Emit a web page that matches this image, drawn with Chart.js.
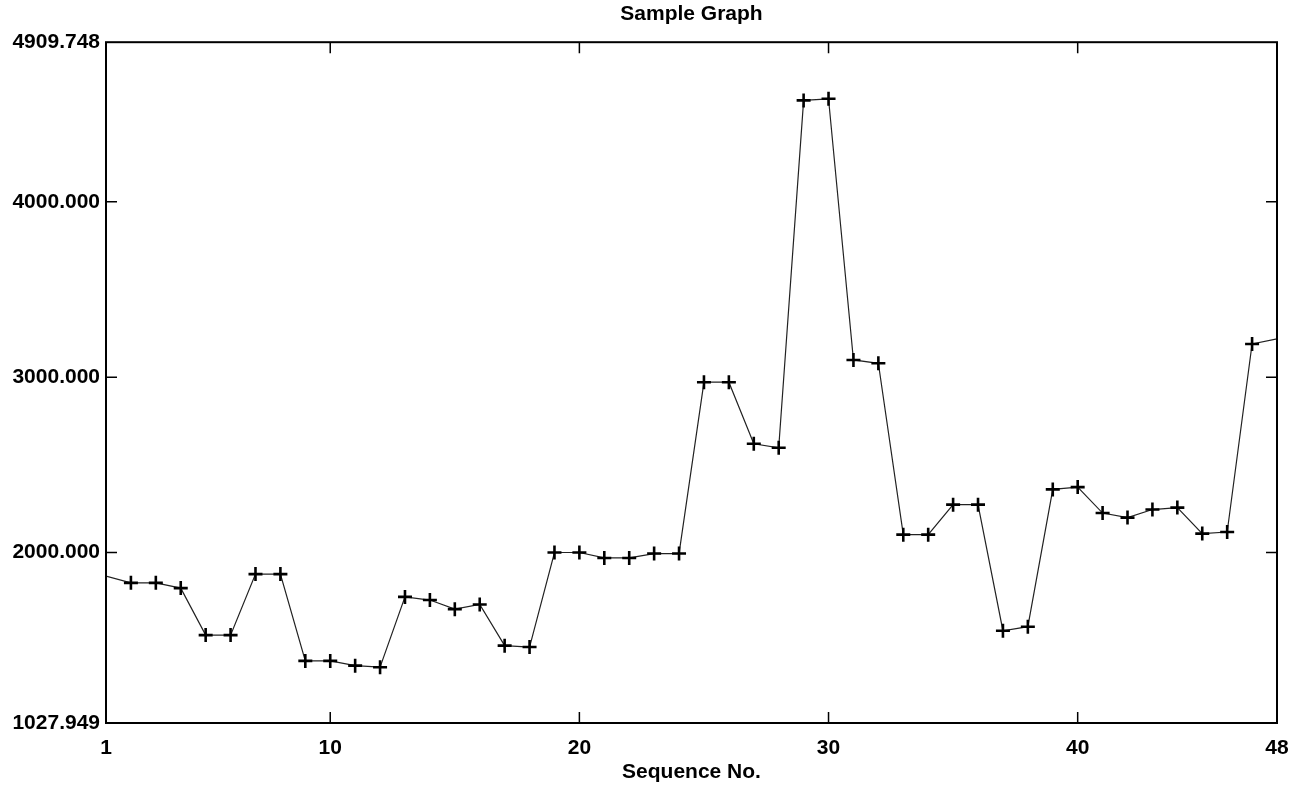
<!DOCTYPE html>
<html lang="en">
<head>
<meta charset="UTF-8">
<title>Sample Graph</title>
<script src="https://cdn.jsdelivr.net/npm/chart.js"></script>
<style>
    body { margin: 0; background: #fff; }
    canvas { display: block; }
</style>
</head>
<body>
<canvas id="grafico" width="1298" height="787"></canvas>

<script>
// data
var seqNo = [1, 2, 3, 4, 5, 6, 7, 8, 9, 10, 11, 12, 13, 14, 15, 16, 17, 18, 19, 20, 21, 22, 23, 24,
             25, 26, 27, 28, 29, 30, 31, 32, 33, 34, 35, 36, 37, 38, 39, 40, 41, 42, 43, 44, 45, 46, 47, 48];
var valores = [1865, 1827, 1827, 1797, 1529, 1529, 1877, 1877, 1382, 1382, 1355, 1346,
               1747, 1729, 1677, 1704, 1469, 1461, 2000, 2000, 1969, 1969, 1994, 1994,
               2971, 2971, 2620, 2597, 4578, 4587, 3098, 3079, 2102, 2102, 2273, 2273,
               1554, 1577, 2360, 2373, 2225, 2199, 2245, 2256, 2108, 2117, 3189, 3218];
var xTicks = [1, 10, 20, 30, 40, 48];
var yTicks = [1027.949, 2000, 3000, 4000, 4909.748];

var fonte = { family: 'Arial, "Liberation Sans", sans-serif', size: 21, weight: 'bold' };

// moldura + tracinhos pra dentro (o Chart.js desenha eles pra fora)
var moldura = {
    id: 'moldura',
    afterDatasetsDraw: function(chart) {
        var ctx = chart.ctx;
        var a = chart.chartArea;
        var x = chart.scales.x;
        var y = chart.scales.y;
        ctx.save();
        ctx.strokeStyle = '#000';
        ctx.lineWidth = 2;
        ctx.strokeRect(a.left, a.top, a.right - a.left, a.bottom - a.top);
        ctx.lineWidth = 1.5;
        ctx.beginPath();
        xTicks.slice(1, -1).forEach(function(v) {
            var px = x.getPixelForValue(v);
            ctx.moveTo(px, a.bottom); ctx.lineTo(px, a.bottom - 11);
            ctx.moveTo(px, a.top); ctx.lineTo(px, a.top + 11);
        });
        yTicks.slice(1, -1).forEach(function(v) {
            var py = y.getPixelForValue(v);
            ctx.moveTo(a.left, py); ctx.lineTo(a.left + 11, py);
            ctx.moveTo(a.right, py); ctx.lineTo(a.right - 11, py);
        });
        ctx.stroke();
        ctx.restore();
    }
};

var raios = valores.map(function(v, i) { return (i === 0 || i === valores.length - 1) ? 0 : 7; });

var ctx = document.getElementById('grafico').getContext('2d');

new Chart(ctx, {
    type: 'line',
    data: {
        datasets: [{
            data: seqNo.map(function(s, i) { return { x: s, y: valores[i] }; }),
            borderColor: '#222',
            borderWidth: 1.2,
            pointStyle: 'cross',
            pointRadius: raios,
            pointBorderWidth: 2.6,
            pointBorderColor: '#000',
            tension: 0
        }]
    },
    options: {
        responsive: false,
        animation: false,
        layout: { padding: 0 },
        plugins: {
            legend: { display: false },
            tooltip: { enabled: false },
            title: {
                display: true,
                text: 'Sample Graph',
                fullSize: false,
                color: '#000',
                font: fonte,
                padding: { top: 2, bottom: 15 }
            }
        },
        scales: {
            x: {
                type: 'linear',
                min: 1,
                max: 48,
                afterBuildTicks: function(s) { s.ticks = xTicks.map(function(v) { return { value: v }; }); },
                afterFit: function(s) { s.height = 64; s.paddingRight = 21; s.paddingLeft = 0; },
                grid: { display: false, drawTicks: false },
                border: { display: false },
                ticks: { color: '#000', font: fonte, padding: 13, maxRotation: 0, autoSkip: false },
                title: {
                    display: true,
                    text: 'Sequence No.',
                    color: '#000',
                    font: fonte,
                    padding: { top: 0, bottom: 2 }
                }
            },
            y: {
                min: 1027.949,
                max: 4909.748,
                afterBuildTicks: function(s) { s.ticks = yTicks.map(function(v) { return { value: v }; }); },
                afterFit: function(s) { s.width = 106; },
                grid: { display: false, drawTicks: false },
                border: { display: false },
                ticks: {
                    color: '#000',
                    font: fonte,
                    padding: 6,
                    autoSkip: false,
                    callback: function(v) { return Number(v).toFixed(3); }
                }
            }
        }
    },
    plugins: [moldura]
});
</script>
</body>
</html>
